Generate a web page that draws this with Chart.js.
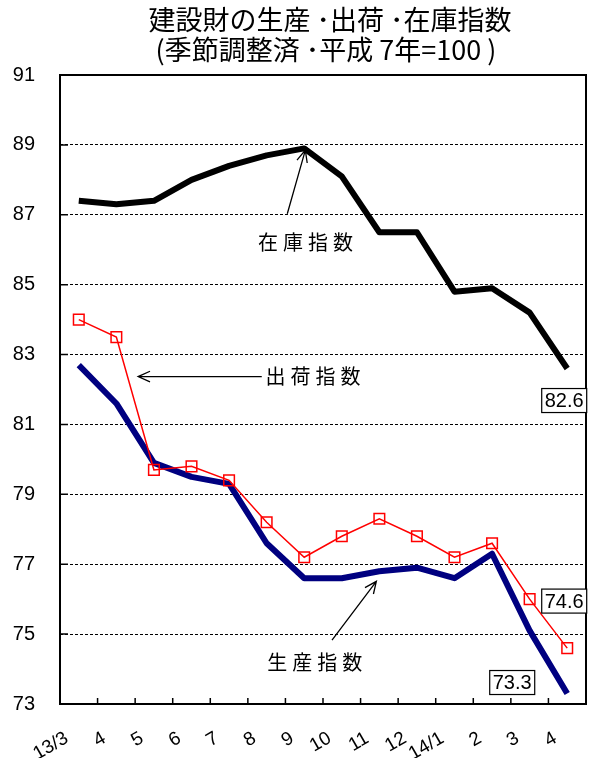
<!DOCTYPE html>
<html>
<head>
<meta charset="utf-8">
<script src="https://cdn.jsdelivr.net/npm/chart.js@4.4.1/dist/chart.umd.min.js"></script>
<style>
  html, body { margin: 0; padding: 0; background: #fff; overflow: hidden; }
  canvas { display: block; }
</style>
</head>
<body>
<canvas id="myLineChart" width="595" height="758"></canvas>
<script>
const months = ["13/3", "4", "5", "6", "7", "8", "9", "10", "11", "12", "14/1", "2", "3", "4"];
const zaiko = [87.4, 87.3, 87.4, 88.0, 88.4, 88.7, 88.9, 88.1, 86.5, 86.5, 84.8, 84.9, 84.2, 82.6];
const shukka = [84.0, 83.5, 79.7, 79.8, 79.4, 78.2, 77.2, 77.8, 78.3, 77.8, 77.2, 77.6, 76.0, 74.6];
const seisan = [82.7, 81.6, 79.9, 79.5, 79.3, 77.6, 76.6, 76.6, 76.8, 76.9, 76.6, 77.3, 75.1, 73.3];
const yMin = 73, yMax = 91, yStep = 2;

const titleLines = ["建設財の生産 ･出荷 ･在庫指数", "(季節調整済 ･平成 7年=100 )"];

const JP = '"Noto Sans CJK JP", "Liberation Sans", sans-serif';
const LAT = '"Liberation Sans", "Noto Sans CJK JP", sans-serif';

function arrow(ctx, x1, y1, x2, y2) {
  const a = Math.atan2(y2 - y1, x2 - x1);
  const len = 13, sp = 0.42;
  ctx.beginPath();
  ctx.moveTo(x1, y1);
  ctx.lineTo(x2, y2);
  ctx.moveTo(x2 - len * Math.cos(a - sp), y2 - len * Math.sin(a - sp));
  ctx.lineTo(x2, y2);
  ctx.lineTo(x2 - len * Math.cos(a + sp), y2 - len * Math.sin(a + sp));
  ctx.stroke();
}

const extras = {
  id: "extras",
  afterDraw(chart) {
    const ctx = chart.ctx;
    const a = chart.chartArea;
    const x = chart.scales.x, y = chart.scales.y;
    const px = (i) => x.getPixelForValue(i);
    const py = (v) => y.getPixelForValue(v);
    ctx.save();

    // title
    ctx.fillStyle = "#000";
    ctx.textAlign = "center";
    ctx.textBaseline = "middle";
    ctx.font = "27px " + JP;
    ctx.fillText(titleLines[0], 330, 20);
    ctx.fillText(titleLines[1], 326, 50);

    // frame
    ctx.strokeStyle = "#000";
    ctx.lineWidth = 2;
    ctx.strokeRect(a.left, a.top, a.right - a.left, a.bottom - a.top);

    // inward ticks
    ctx.lineWidth = 1.5;
    ctx.beginPath();
    for (let i = 1; i < months.length; i++) {
      const bx = (px(i) + px(i - 1)) / 2;
      ctx.moveTo(bx, a.bottom);
      ctx.lineTo(bx, a.bottom - 6);
    }
    for (let v = yMin + yStep; v < yMax; v += yStep) {
      ctx.moveTo(a.left, py(v));
      ctx.lineTo(a.left + 8, py(v));
    }
    ctx.stroke();

    // rotated month labels
    ctx.font = "19px " + LAT;
    ctx.textAlign = "right";
    ctx.textBaseline = "middle";
    months.forEach((m, i) => {
      ctx.save();
      ctx.translate(px(i) - 12, a.bottom + 33);
      ctx.rotate(-Math.PI / 6);
      ctx.fillText(m, 0, 0);
      ctx.restore();
    });

    // series names + arrows
    ctx.lineWidth = 1.3;
    ctx.font = "20px " + JP;
    ctx.letterSpacing = "5px";
    ctx.textAlign = "center";
    ctx.fillText("在庫指数", px(6.1), py(86.2));
    ctx.fillText("出荷指数", px(6.3), py(82.37));
    ctx.fillText("生産指数", px(6.35), py(74.2));
    ctx.letterSpacing = "0px";
    arrow(ctx, px(5.55), py(87.03), px(6.03), py(88.85));
    arrow(ctx, px(4.87), py(82.37), px(1.58), py(82.37));
    arrow(ctx, px(6.74), py(74.83), px(7.92), py(76.51));

    // value boxes
    const last = months.length - 1;
    const boxes = [
      [zaiko[last], px(last) - 3, py(zaiko[last]) + 32],
      [shukka[last], px(last) - 3, py(shukka[last]) - 47],
      [seisan[last], px(last) - 55, py(seisan[last]) - 11],
    ];
    ctx.font = "20px " + LAT;
    ctx.lineWidth = 1.2;
    boxes.forEach(([v, cx, cy]) => {
      const w = 45, h = 24;
      ctx.fillStyle = "#fff";
      ctx.fillRect(cx - w / 2, cy - h / 2, w, h);
      ctx.strokeRect(cx - w / 2, cy - h / 2, w, h);
      ctx.fillStyle = "#000";
      ctx.fillText(v.toFixed(1), cx, cy + 1);
    });
    ctx.restore();
  },
};

const data = {
  labels: months,
  datasets: [
    {
      label: "在庫指数",
      data: zaiko,
      borderColor: "#000000",
      borderWidth: 6,
      pointRadius: 0,
      borderJoinStyle: "round",
      order: 3,
    },
    {
      label: "生産指数",
      data: seisan,
      borderColor: "#000080",
      borderWidth: 6,
      pointRadius: 0,
      borderJoinStyle: "round",
      order: 2,
    },
    {
      label: "出荷指数",
      data: shukka,
      borderColor: "#ff0000",
      borderWidth: 1.5,
      pointStyle: "rect",
      pointRadius: 7.5,
      pointBorderWidth: 1.5,
      pointBorderColor: "#ff0000",
      pointBackgroundColor: "rgba(255,255,255,0)",
      order: 1,
    },
  ],
};

const options = {
  responsive: false,
  animation: false,
  devicePixelRatio: 1,
  layout: { padding: { top: 75, right: 3, left: 0, bottom: 0 } },
  plugins: {
    legend: { display: false },
    title: { display: false },
    tooltip: { enabled: false },
  },
  scales: {
    x: {
      type: "category",
      offset: true,
      afterFit: (s) => { s.height = 54; },
      grid: { display: false, drawTicks: false },
      border: { display: false },
      ticks: { display: false },
    },
    y: {
      min: yMin,
      max: yMax,
      afterFit: (s) => { s.width = 60; },
      grid: { color: "#000", lineWidth: 1, drawTicks: false },
      border: { display: false, dash: [3, 2] },
      ticks: {
        stepSize: yStep,
        color: "#000",
        padding: 25,
        font: { size: 20, family: LAT },
      },
    },
  },
};

new Chart(document.getElementById("myLineChart").getContext("2d"), {
  type: "line",
  data: data,
  options: options,
  plugins: [extras],
});
</script>
</body>
</html>
